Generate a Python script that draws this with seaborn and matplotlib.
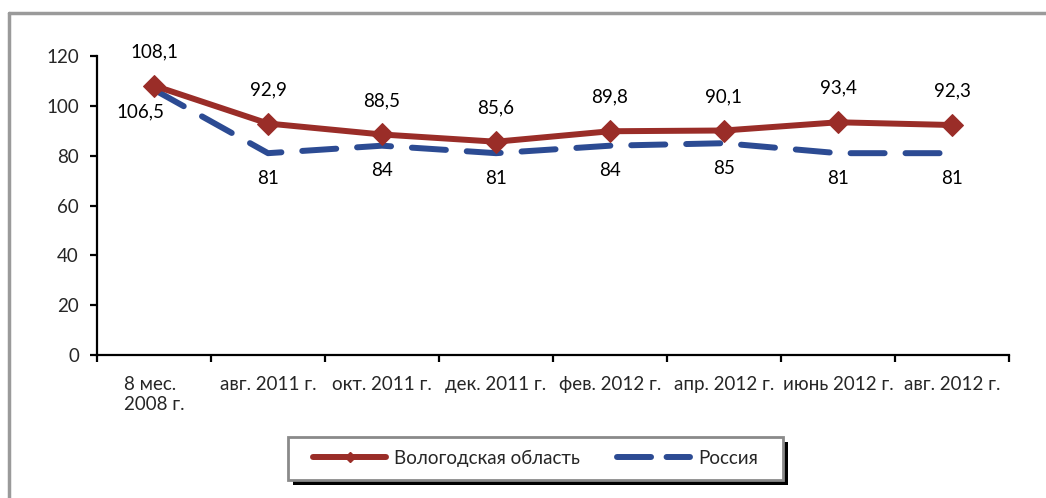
import matplotlib
matplotlib.use("Agg")
import matplotlib.pyplot as plt
from matplotlib.lines import Line2D
from matplotlib.patches import Rectangle
import seaborn as sns
import pandas as pd

categories = ["8 мес.\n2008 г.", "авг. 2011 г.", "окт. 2011 г.", "дек. 2011 г.",
              "фев. 2012 г.", "апр. 2012 г.", "июнь 2012 г.", "авг. 2012 г."]
vologda = [108.1, 92.9, 88.5, 85.6, 89.8, 90.1, 93.4, 92.3]
russia = [106.5, 81, 84, 81, 84, 85, 81, 81]
series_names = ["Вологодская область", "Россия"]
yticks = [0, 20, 40, 60, 80, 100, 120]

RED = "#9a2d28"
BLUE = "#2c4b93"

sns.set_style("white")
plt.rcParams["font.family"] = ["Lato", "DejaVu Sans"]
FS = 13.5

fig = plt.figure(figsize=(10.46, 4.98), dpi=100)
ax = fig.add_axes([97 / 1046, 143 / 498, (1009 - 97) / 1046, (355 - 56) / 498])

pos = list(range(len(categories)))
df_r = pd.DataFrame({"x": pos, "y": russia})
df_v = pd.DataFrame({"x": pos, "y": vologda})

sns.lineplot(data=df_r, x="x", y="y", ax=ax, color=BLUE, lw=4.3, sort=False,
             dashes=False, zorder=2)
ax.lines[-1].set_dashes((5.7, 3.5))
ax.lines[-1].set_dash_capstyle("round")
sns.lineplot(data=df_v, x="x", y="y", ax=ax, color=RED, lw=4.3, sort=False,
             marker="D", markersize=11, markeredgecolor=RED, zorder=3)

def fmt(v):
    return ("{:g}".format(v)).replace(".", ",")

for i, v in enumerate(vologda):
    ax.annotate(fmt(v), (i, v), xytext=(0, 24.5), textcoords="offset points",
                ha="center", va="center", fontsize=FS, color="black")
for i, v in enumerate(russia):
    off = (-10, -16) if i == 0 else (0, -18)
    ax.annotate(fmt(v), (i, v), xytext=off, textcoords="offset points",
                ha="center", va="center", fontsize=FS, color="black")

ax.set_xlim(-0.5, len(categories) - 0.5)
ax.set_ylim(0, 120)
ax.set_yticks(yticks)
ax.set_yticklabels([str(t) for t in yticks], fontsize=FS)
ax.set_xticks([p - 0.5 for p in pos] + [len(categories) - 0.5])
ax.set_xticklabels([])
ax.set_xticks(pos, minor=True)
ax.set_xticklabels(categories, minor=True, fontsize=FS, va="top", ha="center")
for lab in ax.get_xticklabels(minor=True):
    lab.set_multialignment("left")
ax.tick_params(axis="x", which="major", direction="out", length=5, width=1.6,
               color="black", bottom=True)
ax.tick_params(axis="x", which="minor", length=0, pad=15, bottom=True)
ax.tick_params(axis="y", direction="out", length=5, width=1.6, color="black",
               pad=8, left=True)
for s in ["top", "right"]:
    ax.spines[s].set_visible(False)
for s in ["left", "bottom"]:
    ax.spines[s].set_color("black")
    ax.spines[s].set_linewidth(1.6)
ax.set_xlabel("")
ax.set_ylabel("")
ax.grid(False)

# outer frame (left and top grey lines)
fig.add_artist(Line2D([9 / 1046, 9 / 1046], [0, 1 - 13 / 498], transform=fig.transFigure,
                      color="#9a9a9a", lw=2.5))
fig.add_artist(Line2D([9 / 1046, 1], [1 - 13 / 498, 1 - 13 / 498], transform=fig.transFigure,
                      color="#9a9a9a", lw=2.5))

# legend box with shadow
lx0, lx1, ly0, ly1 = 288, 783, 437, 480
fig.add_artist(Rectangle(((lx0 + 5) / 1046, 1 - (ly1 + 5) / 498), (lx1 - lx0) / 1046,
                         (ly1 - ly0) / 498, transform=fig.transFigure,
                         facecolor="black", edgecolor="none", zorder=1))
fig.add_artist(Rectangle((lx0 / 1046, 1 - ly1 / 498), (lx1 - lx0) / 1046,
                         (ly1 - ly0) / 498, transform=fig.transFigure,
                         facecolor="white", edgecolor="#8a8a8a", lw=2, zorder=2))
handles = [
    Line2D([], [], color=RED, lw=4.3, marker="D", markersize=5),
    Line2D([], [], color=BLUE, lw=4.3, dashes=(5.7, 2.6), dash_capstyle="round"),
]
leg = fig.legend(handles, series_names, loc="center",
                 bbox_to_anchor=((lx0 + lx1) / 2 / 1046, 1 - (ly0 + ly1) / 2 / 498),
                 ncol=2, frameon=False, fontsize=FS, handlelength=3.9,
                 handletextpad=0.4, columnspacing=2.0)
leg.set_zorder(3)

fig.savefig("out.png", dpi=100)
